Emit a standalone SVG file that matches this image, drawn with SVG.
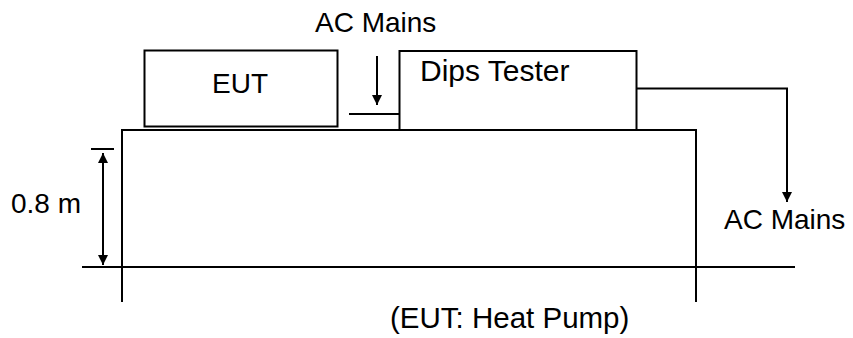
<svg xmlns="http://www.w3.org/2000/svg" width="853" height="338" viewBox="0 0 853 338">
<style>
.l{stroke:#000;stroke-width:2;fill:none}
.b{stroke:#000;stroke-width:2;fill:#fff}
text{font-family:"Liberation Sans",Arial,sans-serif;font-size:28px;fill:#000}
</style>
<defs>
<marker id="ah" markerWidth="10" markerHeight="10" refX="10" refY="5" orient="auto" markerUnits="userSpaceOnUse">
<path d="M0,0 L10,5 L0,10 Z" fill="#000"/>
</marker>
</defs>
<rect width="853" height="338" fill="#fff"/>
<g id="table">
<path class="l" d="M122,302 V130 H696 V302"/>
</g>
<g id="ground">
<line class="l" x1="82" y1="267" x2="795" y2="267"/>
</g>
<g id="eut">
<rect class="b" x="144.5" y="50.5" width="193" height="76"/>
<text x="212" y="92.5">EUT</text>
</g>
<g id="dips">
<rect class="b" x="399.5" y="51" width="237" height="79"/>
<text x="420" y="81" style="font-size:30px">Dips Tester</text>
</g>
<g id="connectors">
<line class="l" x1="349" y1="114" x2="399" y2="114"/>
<line class="l" x1="377" y1="56" x2="377" y2="105" marker-end="url(#ah)"/>
<polyline class="l" points="637,88.5 787,88.5 787,202" marker-end="url(#ah)"/>
<line class="l" x1="91" y1="149" x2="114" y2="149"/>
<line class="l" x1="103" y1="200" x2="103" y2="153" marker-end="url(#ah)"/>
<line class="l" x1="103" y1="200" x2="103" y2="265" marker-end="url(#ah)"/>
</g>
<g id="labels">
<text x="315" y="32">AC Mains</text>
<text x="724" y="229">AC Mains</text>
<text x="11" y="213">0.8 m</text>
<text x="390" y="328" style="font-size:29.5px">(EUT: Heat Pump)</text>
</g>
</svg>
